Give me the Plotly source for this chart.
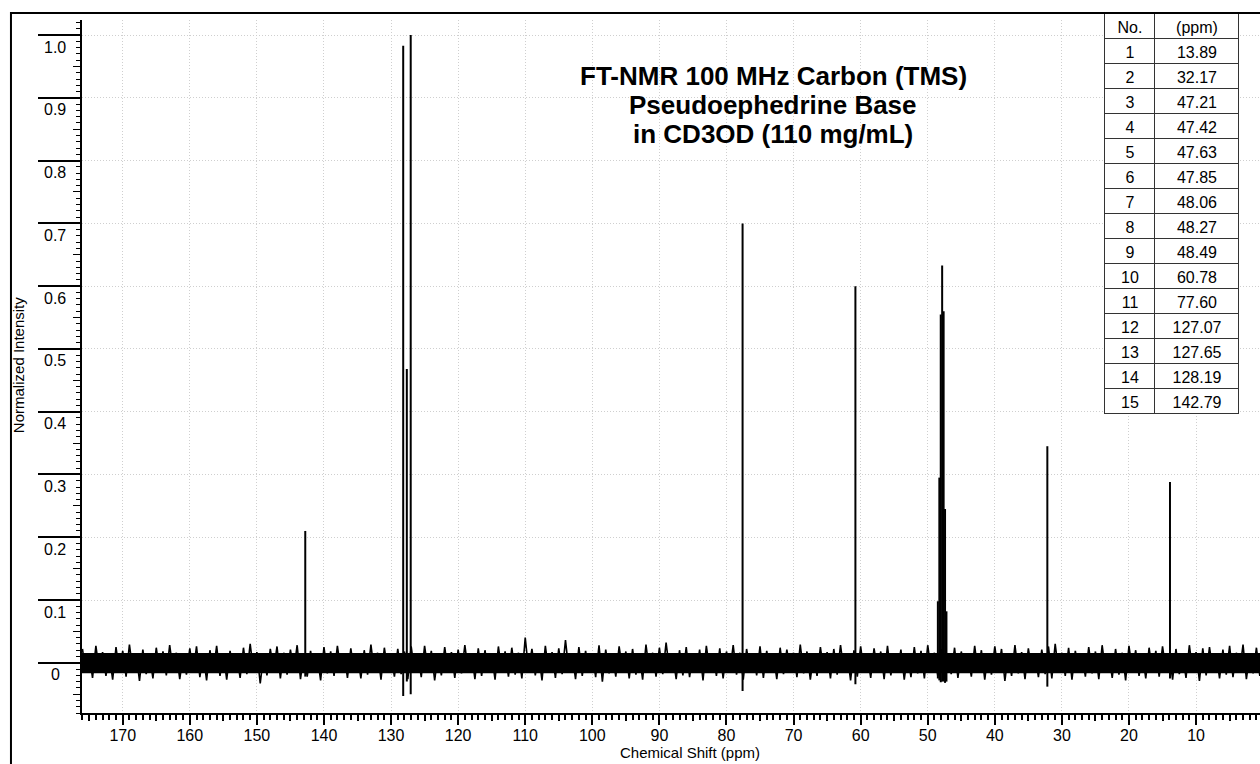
import plotly.graph_objects as go

# peak list (table) + stick heights
peak_no = list(range(1, 16))
peak_ppm = [13.89, 32.17, 47.21, 47.42, 47.63, 47.85, 48.06, 48.27, 48.49,
            60.78, 77.60, 127.07, 127.65, 128.19, 142.79]
peak_height = [0.288, 0.345, 0.082, 0.245, 0.560, 0.633, 0.555, 0.295, 0.098,
               0.600, 0.700, 1.000, 0.468, 0.983, 0.210]
peak_dip = [-0.025, -0.038, -0.030, -0.032, -0.030, -0.030, -0.031, -0.028, -0.025,
            -0.034, -0.045, -0.050, -0.030, -0.053, -0.022]

# baseline noise: upper spikes at each whole ppm, lower spikes half a ppm later
noise_ppm = list(range(176, -1, -1))
noise_top = [
    0.022, 0.014, 0.027, 0.017, 0.012, 0.025, 0.019, 0.029, 0.015, 0.021,
    0.013, 0.024, 0.018, 0.028, 0.016, 0.011, 0.023, 0.026, 0.014, 0.020,
    0.027, 0.015, 0.019, 0.012, 0.024, 0.030, 0.017, 0.013, 0.022, 0.026,
    0.016, 0.021, 0.028, 0.014, 0.019, 0.011, 0.025, 0.018, 0.027, 0.015,
    0.023, 0.012, 0.020, 0.029, 0.016, 0.024, 0.013, 0.022, 0.018, 0.026,
    0.014, 0.027, 0.019, 0.012, 0.025, 0.017, 0.021, 0.028, 0.015, 0.023,
    0.020, 0.013, 0.026, 0.018, 0.024, 0.016, 0.040, 0.022, 0.014, 0.027,
    0.017, 0.023, 0.036, 0.012, 0.025, 0.019, 0.015, 0.028, 0.021, 0.013,
    0.026, 0.018, 0.022, 0.014, 0.029, 0.016, 0.024, 0.032, 0.012, 0.020,
    0.025, 0.015, 0.021, 0.027, 0.013, 0.023, 0.018, 0.028, 0.016, 0.022,
    0.014, 0.026, 0.019, 0.012, 0.024, 0.021, 0.016, 0.029, 0.018, 0.013,
    0.025, 0.017, 0.022, 0.028, 0.014, 0.020, 0.026, 0.012, 0.023, 0.018,
    0.027, 0.015, 0.021, 0.013, 0.025, 0.019, 0.028, 0.016, 0.022, 0.014,
    0.024, 0.018, 0.012, 0.027, 0.020, 0.015, 0.026, 0.022, 0.013, 0.028,
    0.017, 0.023, 0.014, 0.021, 0.026, 0.030, 0.016, 0.024, 0.019, 0.012,
    0.025, 0.018, 0.028, 0.014, 0.022, 0.016, 0.027, 0.020, 0.013, 0.024,
    0.019, 0.026, 0.015, 0.022, 0.012, 0.028, 0.017, 0.023, 0.025, 0.014,
    0.021, 0.027, 0.016, 0.029, 0.013, 0.024, 0.019,
]
noise_bottom = [
    -0.016, -0.024, -0.013, -0.021, -0.027, -0.015, -0.022, -0.012, -0.029, -0.018,
    -0.025, -0.014, -0.020, -0.012, -0.026, -0.019, -0.016, -0.023, -0.028, -0.015,
    -0.021, -0.027, -0.013, -0.024, -0.018, -0.015, -0.033, -0.020, -0.012, -0.025,
    -0.019, -0.013, -0.026, -0.022, -0.015, -0.028, -0.017, -0.021, -0.012, -0.024,
    -0.014, -0.025, -0.019, -0.016, -0.027, -0.013, -0.022, -0.018, -0.026, -0.015,
    -0.023, -0.012, -0.028, -0.020, -0.015, -0.024, -0.017, -0.013, -0.026, -0.021,
    -0.016, -0.027, -0.014, -0.022, -0.019, -0.025, -0.012, -0.020, -0.028, -0.015,
    -0.024, -0.018, -0.013, -0.026, -0.021, -0.015, -0.023, -0.030, -0.017, -0.022,
    -0.013, -0.025, -0.019, -0.027, -0.014, -0.022, -0.018, -0.012, -0.026, -0.020,
    -0.023, -0.016, -0.028, -0.013, -0.021, -0.025, -0.015, -0.019, -0.027, -0.012,
    -0.020, -0.024, -0.014, -0.026, -0.018, -0.012, -0.023, -0.017, -0.027, -0.021,
    -0.015, -0.025, -0.019, -0.013, -0.028, -0.022, -0.016, -0.024, -0.012, -0.026,
    -0.020, -0.014, -0.027, -0.023, -0.017, -0.025, -0.013, -0.021, -0.026, -0.018,
    -0.024, -0.012, -0.022, -0.016, -0.027, -0.019, -0.014, -0.029, -0.021, -0.017,
    -0.026, -0.013, -0.023, -0.018, -0.025, -0.015, -0.021, -0.027, -0.012, -0.022,
    -0.017, -0.026, -0.014, -0.024, -0.019, -0.028, -0.013, -0.021, -0.025, -0.016,
    -0.022, -0.012, -0.027, -0.018, -0.024, -0.015, -0.029, -0.020, -0.013, -0.025,
    -0.019, -0.023, -0.014, -0.026, -0.017, -0.021, -0.016,
]
# solid body of the noise band
noise_core_ppm = [176.5, 0]
noise_core_hi = [0.0155, 0.0155]
noise_core_lo = [-0.0165, -0.0165]

x_ticks = [170, 160, 150, 140, 130, 120, 110, 100, 90, 80, 70, 60, 50, 40, 30, 20, 10]
x_mid_ticks = [175, 165, 155, 145, 135, 125, 115, 105, 95, 85, 75, 65, 55, 45, 35, 25, 15, 5]
y_ticks = [0, 0.1, 0.2, 0.3, 0.4, 0.5, 0.6, 0.7, 0.8, 0.9, 1.0]
y_labels = ["0", "0.1", "0.2", "0.3", "0.4", "0.5", "0.6", "0.7", "0.8", "0.9", "1.0"]
y_mid_ticks = [-0.05, 0.05, 0.15, 0.25, 0.35, 0.45, 0.55, 0.65, 0.75, 0.85, 0.95]

title_lines = ["FT-NMR 100 MHz Carbon (TMS)", "Pseudoephedrine Base", "in CD3OD (110 mg/mL)"]

FONT = "Arial, 'Liberation Sans', sans-serif"
X_RANGE = [176.07, 0.47]
Y_RANGE = [-0.080, 1.024]

fig = go.Figure()

# core of the noise band
fig.add_trace(go.Scatter(x=noise_core_ppm, y=noise_core_lo, mode="lines",
                         line=dict(color="black", width=0), hoverinfo="skip"))
fig.add_trace(go.Scatter(x=noise_core_ppm, y=noise_core_hi, mode="lines", fill="tonexty",
                         fillcolor="black", line=dict(color="black", width=0),
                         hoverinfo="skip"))

# zigzag noise trace
zx, zy = [], []
for p, hi, lo in zip(noise_ppm, noise_top, noise_bottom):
    zx += [p, p - 0.5]
    zy += [hi, lo]
fig.add_trace(go.Scatter(x=zx, y=zy, mode="lines",
                         line=dict(color="black", width=1.6), hoverinfo="skip"))

# peak sticks
sx, sy = [], []
for p, h, d in zip(peak_ppm, peak_height, peak_dip):
    sx += [p, p, None]
    sy += [d, h, None]
fig.add_trace(go.Scatter(x=sx, y=sy, mode="lines",
                         line=dict(color="black", width=2), hoverinfo="skip"))

# dummy trace so the tick-only overlay axes get drawn
fig.add_trace(go.Scatter(x=[None], y=[None], xaxis="x2", yaxis="y2", showlegend=False))

# peak table
fig.add_trace(go.Table(
    domain=dict(x=[0.8684, 0.9824], y=[0.427, 1.0]),
    columnwidth=[50, 84],
    header=dict(values=["No.", "(ppm)"], height=25, align="center",
                fill_color="white", line=dict(color="#333", width=1),
                font=dict(family=FONT, size=16, color="black")),
    cells=dict(values=[peak_no, [f"{p:.2f}" for p in peak_ppm]], height=25, align="center",
               fill_color="white", line=dict(color="#333", width=1),
               font=dict(family=FONT, size=16, color="black")),
))

grid = dict(showgrid=True, gridcolor="#cfcfcf", griddash="1px,2px", gridwidth=1)

fig.update_layout(
    width=1260, height=764,
    margin=dict(l=82, r=0, t=13, b=51),
    plot_bgcolor="white", paper_bgcolor="white",
    showlegend=False,
    font=dict(family=FONT, color="black"),
    xaxis=dict(range=X_RANGE, tickmode="array", tickvals=x_ticks,
               ticktext=[str(v) for v in x_ticks],
               ticks="outside", ticklen=10, tickwidth=1.5, tickcolor="black",
               tickfont=dict(size=16), ticklabelstandoff=-3,
               showline=True, linewidth=2, linecolor="black",
               zeroline=False,
               minor=dict(dtick=1, tick0=0, ticks="outside", ticklen=5, tickwidth=1.5,
                          tickcolor="black", showgrid=False),
               **grid),
    yaxis=dict(range=Y_RANGE, domain=[0, 0.99], tickmode="array", tickvals=y_ticks,
               showticklabels=False,
               ticks="outside", ticklen=42, tickwidth=1.5, tickcolor="black",
               showline=True, linewidth=2, linecolor="black", zeroline=False,
               minor=dict(dtick=0.01, tick0=0, ticks="outside", ticklen=4, tickwidth=1.2,
                          tickcolor="black", showgrid=False),
               **grid),
    xaxis2=dict(overlaying="x", anchor="y", side="bottom", range=X_RANGE,
                tickmode="array", tickvals=x_mid_ticks, ticks="outside", ticklen=7,
                tickwidth=1.5, tickcolor="black", showticklabels=False,
                showgrid=False, showline=False, zeroline=False),
    yaxis2=dict(overlaying="y", anchor="x", side="left", range=Y_RANGE,
                tickmode="array", tickvals=y_mid_ticks, ticks="outside", ticklen=8,
                tickwidth=1.2, tickcolor="black", showticklabels=False,
                showgrid=False, showline=False, zeroline=False),
)

# y tick labels sit under the long tick lines
for v, lbl in zip(y_ticks, y_labels):
    fig.add_annotation(x=-0.0229, xref="paper", y=v, yref="y", yshift=-12,
                       text=lbl, showarrow=False, xanchor="center", yanchor="middle",
                       font=dict(size=16))

# axis titles
fig.add_annotation(x=0.516, xref="paper", y=-0.0571, yref="paper",
                   text="Chemical Shift (ppm)", showarrow=False,
                   xanchor="center", yanchor="middle", font=dict(size=15))
fig.add_annotation(x=-0.0543, xref="paper", y=0.497, yref="paper",
                   text="Normalized Intensity", textangle=-90, showarrow=False,
                   xanchor="center", yanchor="middle", font=dict(size=15))

# title block
for line, ty in zip(title_lines, [0.910, 0.8686, 0.827]):
    fig.add_annotation(x=0.5866, xref="paper", y=ty, yref="paper",
                       text=f"<b>{line}</b>", showarrow=False,
                       xanchor="center", yanchor="middle", font=dict(size=26))

# outer frame (runs past the page on the right/bottom)
fig.add_shape(type="rect", xref="paper", yref="paper",
              x0=-0.0603, y0=-0.2, x1=1.2, y1=1.0,
              line=dict(color="black", width=2), layer="above")

# page body margin off so the figure sits at the window origin
fig.write_html("out.html", config={"displayModeBar": False},
               post_script="document.body.style.margin='0';")
